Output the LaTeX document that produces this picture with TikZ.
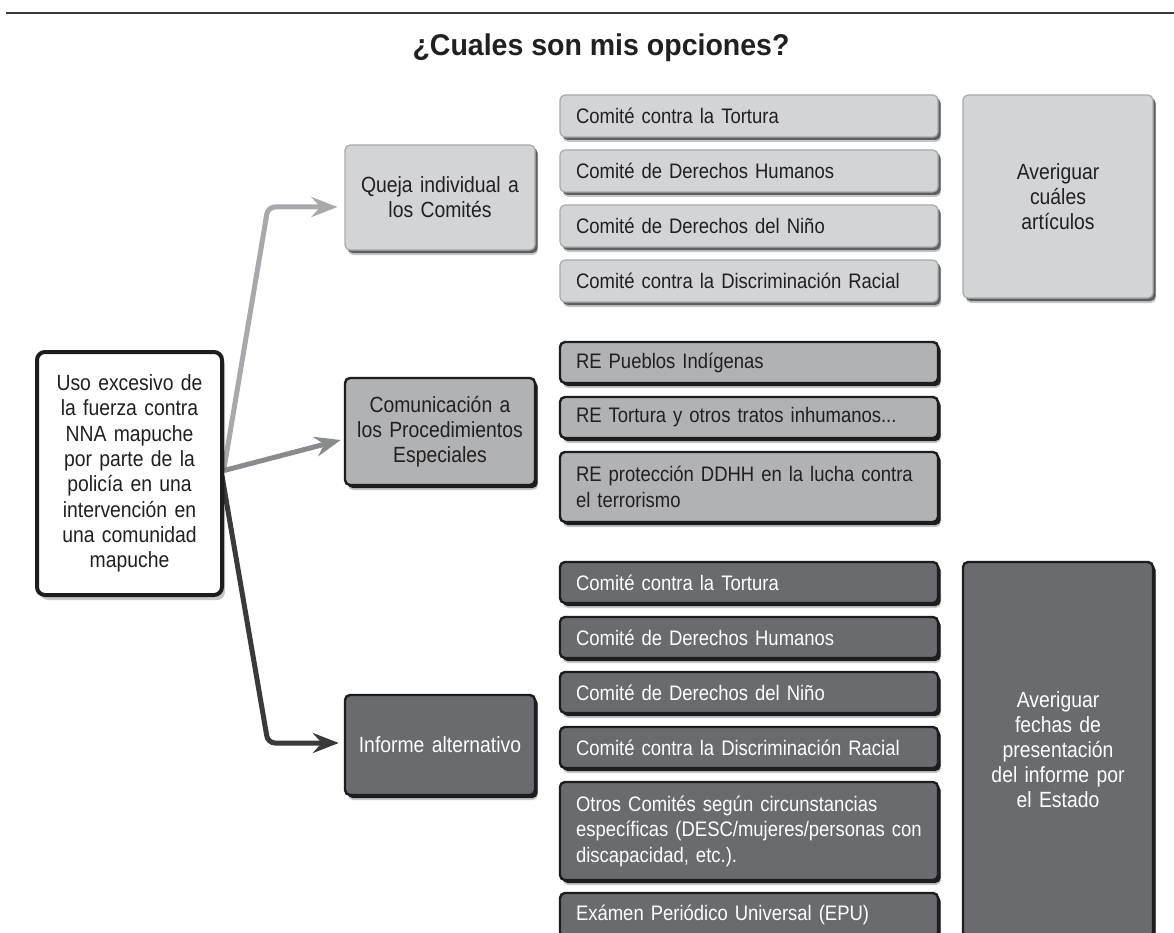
\documentclass[tikz,border=0pt]{standalone}
\usepackage{fontspec}
\setmainfont{Liberation Sans}[FakeStretch=0.88]
\newfontfamily\titlefont{Liberation Sans}[FakeStretch=0.95]
\usetikzlibrary{shadows,arrows.meta}
\definecolor{ink}{HTML}{231F20}
\definecolor{lfill}{HTML}{D3D4D6}
\definecolor{lline}{HTML}{A9AAAC}
\definecolor{lbev}{HTML}{5E5F61}
\definecolor{mfill}{HTML}{B1B2B4}
\definecolor{dfill}{HTML}{6A6B6E}
\definecolor{dark}{HTML}{1E1C1D}
\definecolor{arrowL}{HTML}{A7A9AC}
\definecolor{arrowM}{HTML}{8A8B8E}
\definecolor{arrowD}{HTML}{3A3A3C}
\tikzset{
  soft/.style={general shadow={fill=black, opacity=0.22, shadow xshift=3pt, shadow yshift=-5pt}},
  bevel/.style={general shadow={fill=#1, shadow xshift=2.6pt, shadow yshift=-3pt}},
  lbox/.style={soft, bevel=lbev, rounded corners=5pt, fill=lfill, draw=lline, line width=1.2pt, text=ink},
  mbox/.style={soft, bevel=dark, rounded corners=5pt, fill=mfill, draw=dark, line width=2.4pt, text=ink},
  dbox/.style={soft, bevel=dark, rounded corners=5pt, fill=dfill, draw=dark, line width=2.4pt, text=white},
  mainbox/.style={soft, rounded corners=8pt, fill=white, draw=dark, line width=4pt, text=ink,
     minimum width=185pt, minimum height=243pt, text width=170pt, inner xsep=0pt, align=center,
     font=\fontsize{22}{25.3}\selectfont},
  cbox/.style={text width=172pt, inner xsep=9pt, minimum width=190pt, align=center,
     font=\fontsize{22}{25}\selectfont},
  listbox/.style={text width=346pt, inner xsep=16pt, minimum width=378pt, minimum height=42pt,
     align=left, font=\fontsize{21}{25.5}\selectfont},
  arr/.style={line width=5pt, rounded corners=7pt, -{Stealth[length=26pt,width=20pt,inset=9pt]}},
  arrL/.style={arr, draw=arrowL},
  arrM/.style={arr, draw=arrowM},
  arrD/.style={arr, draw=arrowD},
  titlestyle/.style={font=\titlefont\bfseries\fontsize{30}{34}\selectfont, text=ink},
}
\begin{document}
\begin{tikzpicture}[x=1pt,y=-1pt]
\useasboundingbox (0,0) rectangle (1174,933);
\clip (0,0) rectangle (1174,933);
\fill[white] (0,0) rectangle (1174,933);

% header
\draw[line width=2pt, draw=arrowD] (6,13) -- (1174,13);
\node[titlestyle] (title) at (601,48) {¿Cuales son mis opciones?};

% start and corner points of connectors
\coordinate (s1) at (224,468.5);
\coordinate (s2) at (224,470.5);
\coordinate (s3) at (222,476);
\coordinate (c1) at (268,207);
\coordinate (c3) at (268,743);

% central boxes
\node[lbox, cbox, minimum height=105pt] (queja) at (440,197.5) {Queja individual a\\los Comités};
\node[mbox, cbox, minimum height=107pt] (comm) at (440,431.5) {Comunicación a\\los Procedimientos\\Especiales};
\node[dbox, cbox, minimum height=100pt] (inf) at (440,745) {Informe alternativo};

% connectors
\draw[arrL] (s1) -- (c1) -- ([yshift=-9.5pt,xshift=-7pt]queja.west);
\draw[arrM] (s2) -- ([yshift=-8.5pt,xshift=-3pt]comm.west);
\draw[arrD] (s3) -- (c3) -- ([yshift=2pt,xshift=-5pt]inf.west);

% main box
\node[mainbox] (main) at (129.5,473.5) {Uso excesivo de\\la fuerza contra\\NNA mapuche\\por parte de la\\policía en una\\intervención en\\una comunidad\\mapuche};

% light list
\node[lbox, listbox] (l1) at (749,116) {Comité contra la Tortura};
\node[lbox, listbox] (l2) at (749,171) {Comité de Derechos Humanos};
\node[lbox, listbox] (l3) at (749,226) {Comité de Derechos del Niño};
\node[lbox, listbox] (l4) at (749,281) {Comité contra la Discriminación Racial};
\node[lbox, cbox, minimum height=203pt] (av1) at (1058,196.5) {Averiguar\\cuáles\\artículos};

% medium list
\node[mbox, listbox, minimum height=41pt] (m1) at (749,362.5) {RE Pueblos Indígenas};
\node[mbox, listbox, minimum height=41pt] (m2) at (749,417.5) {RE Tortura y otros tratos inhumanos...};
\node[mbox, listbox, minimum height=70pt] (m3) at (749,487) {RE protección DDHH en la lucha contra\\el terrorismo};

% dark list
\node[dbox, listbox, minimum height=41pt] (d1) at (749,582.5) {Comité contra la Tortura};
\node[dbox, listbox, minimum height=41pt] (d2) at (749,637.5) {Comité de Derechos Humanos};
\node[dbox, listbox, minimum height=41pt] (d3) at (749,692.5) {Comité de Derechos del Niño};
\node[dbox, listbox, minimum height=41pt] (d4) at (749,747.5) {Comité contra la Discriminación Racial};
\node[dbox, listbox, minimum height=98pt] (d5) at (749,831) {Otros Comités según circunstancias\\específicas (DESC/mujeres/personas con\\discapacidad, etc.).};
\node[dbox, listbox, minimum height=44pt] (d6) at (749,915) {Exámen Periódico Universal (EPU)};
\node[dbox, cbox, minimum height=375pt] (av2) at (1058,749.5) {Averiguar\\fechas de\\presentación\\del informe por\\el Estado};
\end{tikzpicture}
\end{document}
